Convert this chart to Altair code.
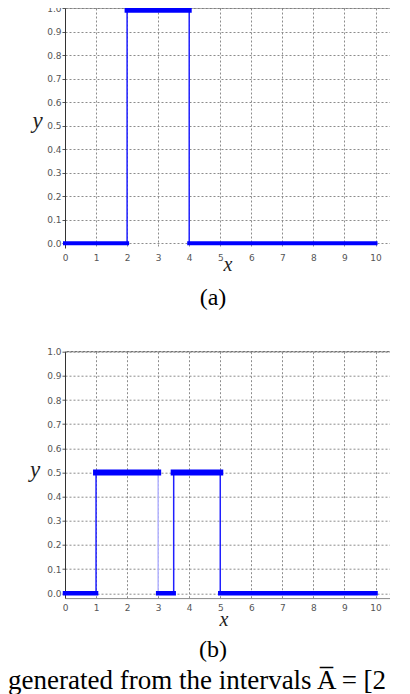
import altair as alt
import pandas as pd

# ---------------- data ----------------
# panel (a): step function, horizontal pieces [x, x2] at level y
a_hx = [0, 2, 4]
a_hx2 = [2, 4, 10]
a_hy = [0.0, 0.99, 0.0]
# vertical jumps
a_vx = [2, 4]
a_vtop = [0.99, 0.99]

# panel (b)
b_hx = [0, 1, 3, 3.5, 5]
b_hx2 = [1, 3, 3.5, 5, 10]
b_hy = [0.0, 0.5, 0.0, 0.5, 0.0]
b_vx = [1, 3, 3.5, 5]
b_vtop = [0.5, 0.5, 0.5, 0.5]

x_ticks = [0, 1, 2, 3, 4, 5, 6, 7, 8, 9, 10]
y_ticks = [0.0, 0.1, 0.2, 0.3, 0.4, 0.5, 0.6, 0.7, 0.8, 0.9, 1.0]

panel_labels = ["(a)", "(b)"]
caption = "generated from the intervals A\u0305 = [2"

W = 324.5
BLUE = "#0000ff"


def panel(hx, hx2, hy, vx, vtop, label, show_xdomain, height, ytitle_x, ytitle_y,
          xtitle_x, xtitle_y, label_y, hi_width, lo_width, extra=None):
    h = pd.DataFrame({"x": hx, "x2": hx2, "y": hy})
    v = pd.DataFrame({"x": vx, "y0": [0.0] * len(vx), "y2": vtop})
    top = pd.DataFrame({"y": [1.0]})
    lab = pd.DataFrame({"t": [label]})

    xs = alt.Scale(domain=[0, 10.45], nice=False, zero=False)
    ys = alt.Scale(domain=[-0.02, 1.0], nice=False, zero=False)
    xaxis = alt.Axis(values=x_ticks, format="d", title="x", grid=True,
                     gridColor="#8c8c8c", gridDash=[2, 2], gridWidth=1,
                     domain=show_xdomain, domainColor="#8a8a8a", domainWidth=1,
                     ticks=False, tickSize=4,
                     labelFont="DejaVu Sans", labelFontSize=9, labelColor="#555",
                     labelPadding=5, labelOverlap=False, labelFlush=False,
                     titleFont="Liberation Serif", titleFontStyle="italic",
                     titleFontWeight="normal", titleFontSize=20, titleColor="#222",
                     titleX=xtitle_x, titleY=xtitle_y, titleBaseline="alphabetic",
                     titleAlign="center")
    yaxis = alt.Axis(values=y_ticks, format=".1f", title="y", grid=True,
                     gridColor="#8c8c8c", gridDash=[2, 2], gridWidth=1,
                     domain=True, domainColor="#333", domainWidth=1,
                     ticks=True, tickSize=3, tickColor="#555",
                     labelFont="DejaVu Sans", labelFontSize=9, labelColor="#555",
                     labelPadding=1, labelOverlap=False, labelFlush=False,
                     titleFont="Liberation Serif", titleFontStyle="italic",
                     titleFontWeight="normal", titleFontSize=23, titleColor="#222",
                     titleAngle=0, titleX=ytitle_x, titleY=ytitle_y,
                     titleBaseline="alphabetic", titleAlign="center")

    verts = alt.Chart(v).mark_rule(strokeWidth=1.5).encode(
        x=alt.X("x:Q", scale=xs, axis=xaxis),
        y=alt.Y("y0:Q", scale=ys, axis=yaxis),
        y2="y2:Q",
        color=alt.condition(alt.datum.x == 3, alt.value("#b4b4ff"), alt.value("#2020ff")),
    )
    toprule = alt.Chart(top).mark_rule(color="#555", strokeDash=[3, 1], strokeWidth=1).encode(
        y=alt.Y("y:Q", scale=ys, axis=yaxis),
    )
    horiz = alt.Chart(h).mark_rule(color=BLUE, strokeCap="square").encode(
        x=alt.X("x:Q", scale=xs, axis=xaxis),
        x2="x2:Q",
        y=alt.Y("y:Q", scale=ys, axis=yaxis),
        strokeWidth=alt.condition(alt.datum.y > 0, alt.value(hi_width), alt.value(lo_width)),
    )
    lbl = alt.Chart(lab).mark_text(font="Liberation Serif", fontSize=24, align="center",
                                   baseline="middle", color="#000").encode(
        x=alt.value(148), y=alt.value(label_y), text="t:N")
    layers = [toprule, verts, horiz, lbl]
    if extra is not None:
        layers.append(extra)
    return alt.layer(*layers).properties(width=W, height=height)


cap = alt.Chart(pd.DataFrame({"t": [caption]})).mark_text(
    font="Liberation Serif", fontSize=27, align="left", baseline="alphabetic", color="#000"
).encode(x=alt.value(-57), y=alt.value(337), text="t:N")

pa = panel(a_hx, a_hx2, a_hy, a_vx, a_vtop, panel_labels[0], False, 240.0,
           -28, 119, 162.5, 22, 290, 5, 4)
pb = panel(b_hx, b_hx2, b_hy, b_vx, b_vtop, panel_labels[1], True, 246.4,
           -30.5, 125, 158.5, 27, 298, 6, 4.5, extra=cap)

chart = alt.vconcat(pa, pb, spacing=103.7, bounds="flush").properties(
    padding={"top": -4, "left": 0, "right": 0, "bottom": 0}
).configure_view(stroke=None)

chart.save("out.html", embed_options={"renderer": "svg", "actions": False})
